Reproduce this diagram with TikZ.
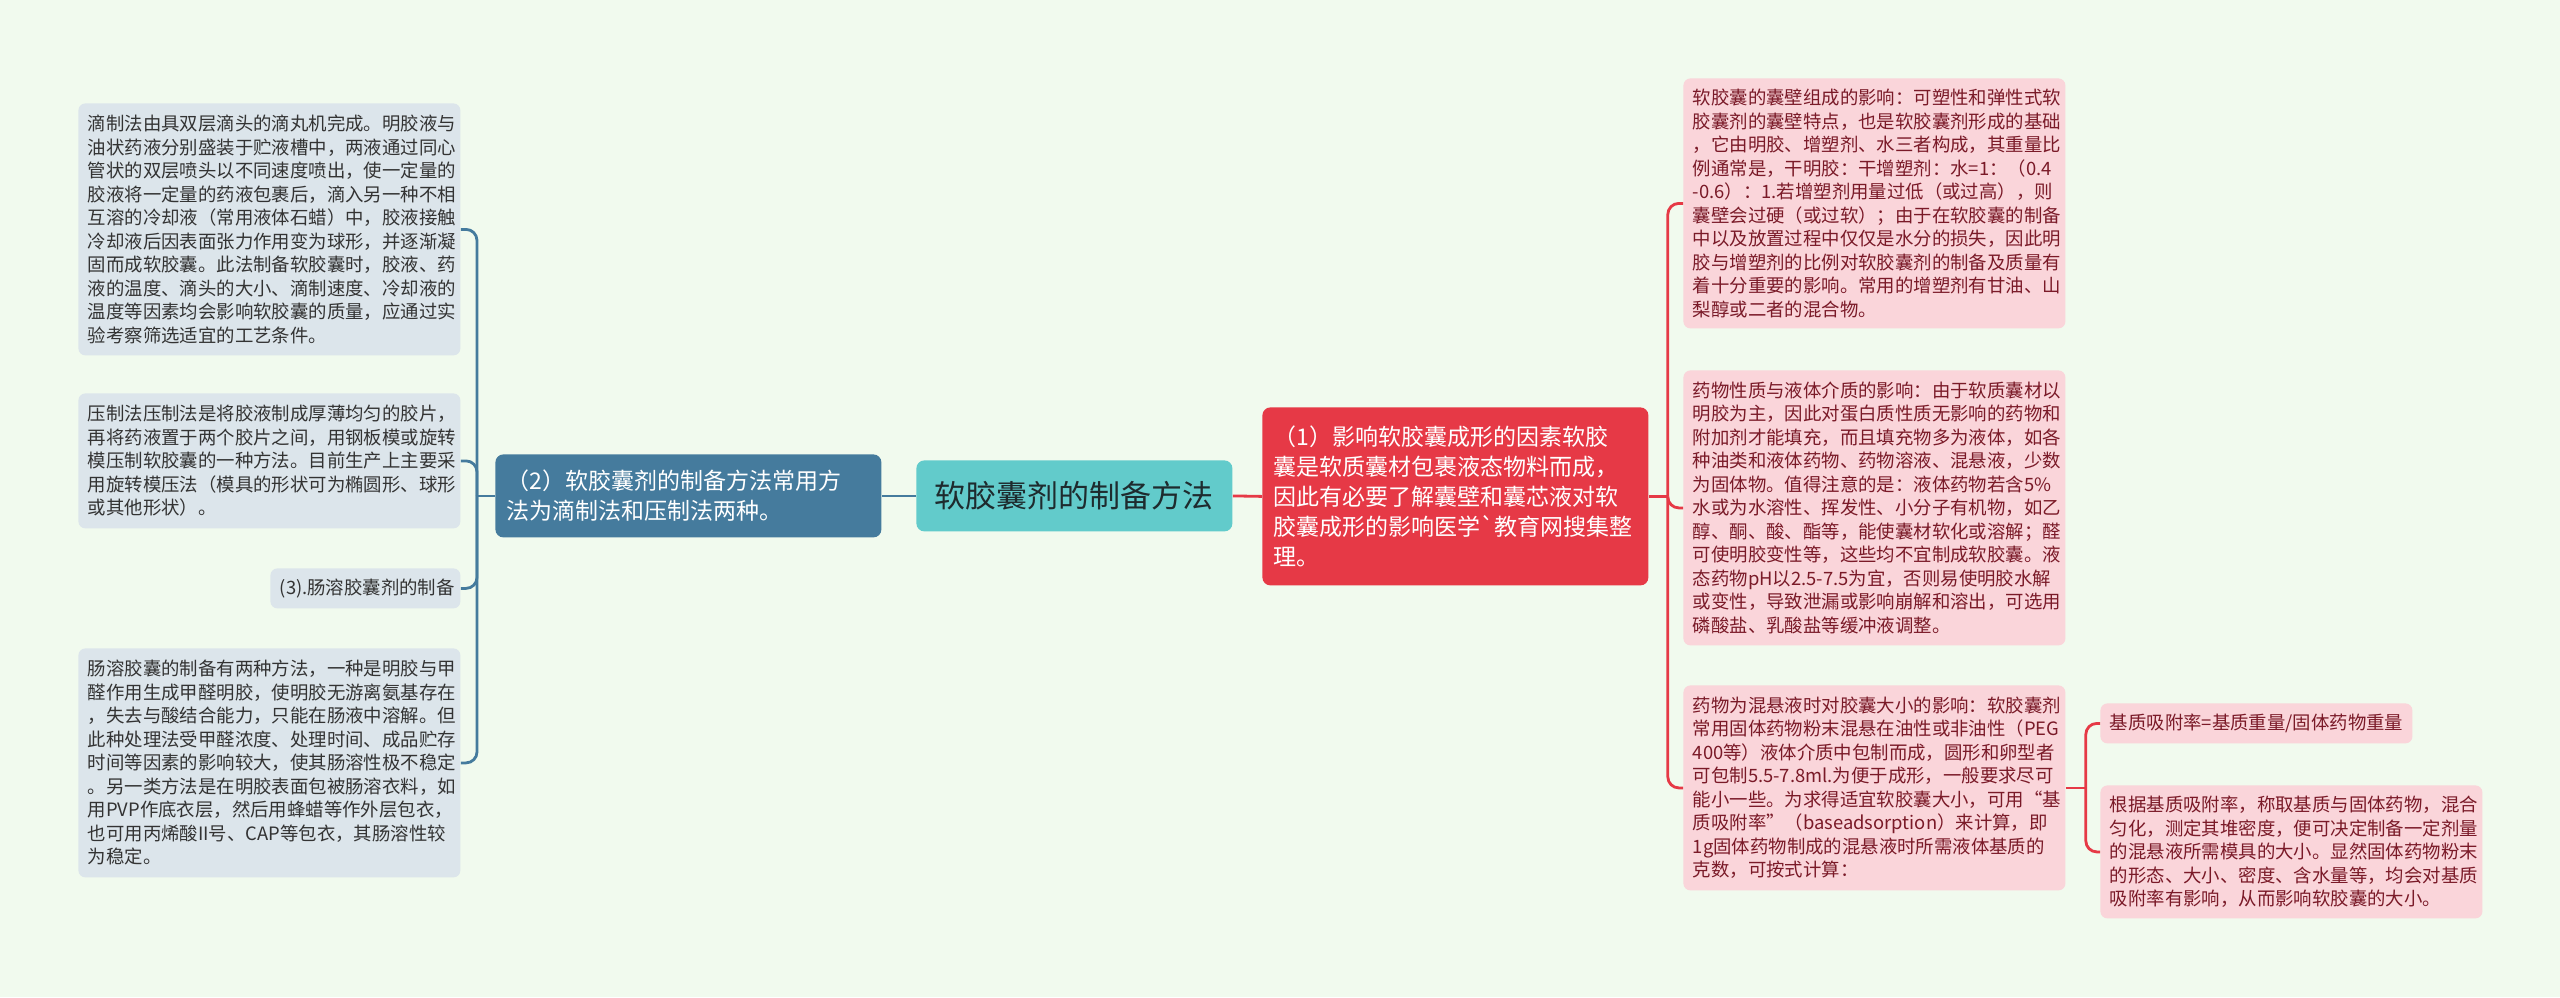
\documentclass[tikz,border=0pt]{standalone}
\usepackage{fontspec}
\setmainfont{Noto Sans CJK SC}[Ligatures=TeXOff]
\usetikzlibrary{calc}
\definecolor{bgc}{HTML}{F1FAEE}
\definecolor{steelc}{HTML}{457B9D}
\definecolor{redc}{HTML}{E63946}
\definecolor{rootc}{HTML}{62CBCB}
\definecolor{leafLc}{HTML}{DCE5EB}
\definecolor{leafRc}{HTML}{FAD5DA}
\definecolor{txtRc}{HTML}{7A1A28}
\definecolor{txtLc}{HTML}{333333}
\definecolor{rootTxtc}{HTML}{1E2B2E}
\tikzset{
  leafbox/.style={anchor=north west, rounded corners=3.5pt, inner xsep=4.7pt, inner ysep=2pt,
    text width=181.6pt, align=left, font={\fontsize{9.2pt}{11.75pt}\selectfont}},
  lleaf/.style={leafbox, fill=leafLc, text=txtLc},
  rleaf/.style={leafbox, fill=leafRc, text=txtRc},
  mainbox/.style={anchor=north west, rounded corners=4pt, inner xsep=5.5pt, inner ysep=2pt,
    text width=182pt, align=left, text=white, font={\fontsize{11.5pt}{15pt}\selectfont}},
  rootbox/.style={anchor=north west, rounded corners=4pt, fill=rootc, text=rootTxtc,
    minimum width=158pt, minimum height=35.5pt, align=center, font={\fontsize{15.5pt}{18pt}\selectfont}},
  lconn/.style={draw=steelc, line width=1.4pt, rounded corners=5.5pt},
  rconn/.style={draw=redc, line width=1.4pt, rounded corners=5.5pt},
}
\begin{document}
\begin{tikzpicture}[x=0.5pt,y=-0.5pt]
\fill[bgc] (0,0) rectangle (2560,997);
\useasboundingbox (0,0) rectangle (2560,997);

% root
\node[rootbox] (root) at (916,460) {软胶囊剂的制备方法};

% left main
\node[mainbox, fill=steelc, minimum height=41.5pt] (lmain) at (495,454)
 {（2）软胶囊剂的制备方法常用方\\法为滴制法和压制法两种。};

% right main
\node[mainbox, fill=redc, minimum height=89pt] (red) at (1262,407)
 {（1）影响软胶囊成形的因素软胶\\囊是软质囊材包裹液态物料而成，\\因此有必要了解囊壁和囊芯液对软\\胶囊成形的影响医学`教育网搜集整\\理。};

% left leaves
\node[lleaf, minimum height=126pt] (l1) at (78,103)
 {滴制法由具双层滴头的滴丸机完成。明胶液与\\油状药液分别盛装于贮液槽中，两液通过同心\\管状的双层喷头以不同速度喷出，使一定量的\\胶液将一定量的药液包裹后，滴入另一种不相\\互溶的冷却液（常用液体石蜡）中，胶液接触\\冷却液后因表面张力作用变为球形，并逐渐凝\\固而成软胶囊。此法制备软胶囊时，胶液、药\\液的温度、滴头的大小、滴制速度、冷却液的\\温度等因素均会影响软胶囊的质量，应通过实\\验考察筛选适宜的工艺条件。};
\node[lleaf, minimum height=67.5pt] (l2) at (78,393)
 {压制法压制法是将胶液制成厚薄均匀的胶片，\\再将药液置于两个胶片之间，用钢板模或旋转\\模压制软胶囊的一种方法。目前生产上主要采\\用旋转模压法（模具的形状可为椭圆形、球形\\或其他形状）。};
\node[lleaf, text width=85.6pt, minimum height=20pt] (l3) at (270,568)
 {(3).肠溶胶囊剂的制备};
\node[lleaf, minimum height=114.5pt] (l4) at (78,648)
 {肠溶胶囊的制备有两种方法，一种是明胶与甲\\醛作用生成甲醛明胶，使明胶无游离氨基存在\\，失去与酸结合能力，只能在肠液中溶解。但\\此种处理法受甲醛浓度、处理时间、成品贮存\\时间等因素的影响较大，使其肠溶性极不稳定\\。另一类方法是在明胶表面包被肠溶衣料，如\\用PVP作底衣层，然后用蜂蜡等作外层包衣，\\也可用丙烯酸II号、CAP等包衣，其肠溶性较\\为稳定。};

% right leaves
\node[rleaf, minimum height=125pt] (r1) at (1683,78)
 {软胶囊的囊壁组成的影响：可塑性和弹性式软\\胶囊剂的囊壁特点，也是软胶囊剂形成的基础\\，它由明胶、增塑剂、水三者构成，其重量比\\例通常是，干明胶：干增塑剂：水=1：（0.4\\-0.6）：1.若增塑剂用量过低（或过高），则\\囊壁会过硬（或过软）；由于在软胶囊的制备\\中以及放置过程中仅仅是水分的损失，因此明\\胶与增塑剂的比例对软胶囊剂的制备及质量有\\着十分重要的影响。常用的增塑剂有甘油、山\\梨醇或二者的混合物。};
\node[rleaf, minimum height=137.5pt] (r2) at (1683,370)
 {药物性质与液体介质的影响：由于软质囊材以\\明胶为主，因此对蛋白质性质无影响的药物和\\附加剂才能填充，而且填充物多为液体，如各\\种油类和液体药物、药物溶液、混悬液，少数\\为固体物。值得注意的是：液体药物若含5\%\\水或为水溶性、挥发性、小分子有机物，如乙\\醇、酮、酸、酯等，能使囊材软化或溶解；醛\\可使明胶变性等，这些均不宜制成软胶囊。液\\态药物pH以2.5-7.5为宜，否则易使明胶水解\\或变性，导致泄漏或影响崩解和溶出，可选用\\磷酸盐、乳酸盐等缓冲液调整。};
\node[rleaf, minimum height=102.5pt] (r3) at (1683,685)
 {药物为混悬液时对胶囊大小的影响：软胶囊剂\\常用固体药物粉末混悬在油性或非油性（PEG\\400等）液体介质中包制而成，圆形和卵型者\\可包制5.5-7.8ml.为便于成形，一般要求尽可\\能小一些。为求得适宜软胶囊大小，可用“基\\质吸附率”（baseadsorption）来计算，即\\1g固体药物制成的混悬液时所需液体基质的\\克数，可按式计算：};
\node[rleaf, text width=146.6pt, minimum height=20pt] (rr1) at (2100,703)
 {基质吸附率=基质重量/固体药物重量};
\node[rleaf, minimum height=66.5pt] (rr2) at (2100,785)
 {根据基质吸附率，称取基质与固体药物，混合\\匀化，测定其堆密度，便可决定制备一定剂量\\的混悬液所需模具的大小。显然固体药物粉末\\的形态、大小、密度、含水量等，均会对基质\\吸附率有影响，从而影响软胶囊的大小。};

% connectors left
\coordinate (jl) at ($(lmain.west)+(-9pt,0)$);
\draw[lconn] (root.west) -- (lmain.east);
\draw[lconn] (lmain.west) -- (jl);
\foreach \n in {l1,l2,l3,l4} \draw[lconn] (jl) |- (\n.east);

% connectors right
\coordinate (jr) at ($(red.east)+(9.5pt,0)$);
\draw[rconn] (root.east) -- (red.west);
\draw[rconn] (red.east) -- (jr);
\foreach \n in {r1,r2,r3} \draw[rconn] (jr) |- (\n.west);

\coordinate (j3) at ($(r3.east)+(10pt,0)$);
\draw[rconn] (r3.east) -- (j3);
\foreach \n in {rr1,rr2} \draw[rconn] (j3) |- (\n.west);
\end{tikzpicture}
\end{document}
